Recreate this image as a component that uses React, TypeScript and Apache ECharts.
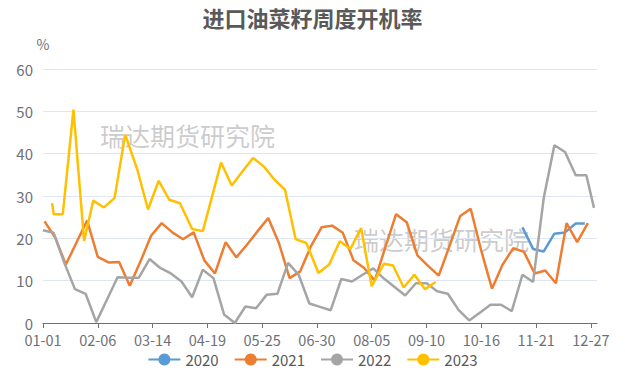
import React, { useEffect, useRef } from "react";
import * as echarts from "echarts";

const monthDays = [31, 28, 31, 30, 31, 30, 31, 31, 30, 31, 30, 31];
const categories: string[] = [];
monthDays.forEach((n, m) => {
  for (let d = 1; d <= n; d++) {
    categories.push(String(m + 1).padStart(2, "0") + "-" + String(d).padStart(2, "0"));
  }
});

const yTicks = [0, 10, 20, 30, 40, 50, 60];

const dates2020 = ["11-12", "11-19", "11-26", "12-03", "12-10", "12-17", "12-23"];
const rate2020 = [22.6, 17.5, 16.9, 21.1, 21.4, 23.5, 23.5];

const dates2021 = [
  "01-02", "01-09", "01-16", "01-23", "01-30", "02-06", "02-13", "02-20", "02-27",
  "03-06", "03-13", "03-20", "03-27", "04-03", "04-10", "04-17", "04-24", "05-01",
  "05-08", "05-15", "05-22", "05-29", "06-05", "06-12", "06-19", "06-26", "07-03",
  "07-10", "07-17", "07-24", "07-31", "08-07", "08-14", "08-21", "08-28", "09-04",
  "09-11", "09-18", "09-25", "10-02", "10-09", "10-16", "10-23", "10-30", "11-06",
  "11-13", "11-20", "11-27", "12-04", "12-11", "12-18", "12-25",
];
const rate2021 = [
  24.0, 20.2, 13.8, 19.0, 24.2, 15.6, 14.3, 14.4, 8.8,
  14.5, 20.6, 23.6, 21.4, 19.8, 21.4, 14.8, 11.7, 19.1,
  15.5, 18.5, 21.7, 24.8, 18.9, 10.6, 12.2, 18.1, 22.6,
  23.0, 21.3, 14.8, 13.0, 10.0, 18.0, 25.7, 23.8, 16.0,
  13.5, 11.2, 18.1, 25.2, 27.0, 17.0, 8.1, 13.8, 17.7,
  16.8, 11.7, 12.4, 9.4, 23.6, 19.1, 23.6,
];

const dates2022 = [
  "01-01", "01-08", "01-15", "01-22", "01-29", "02-05", "02-12", "02-19", "02-26",
  "03-05", "03-12", "03-19", "03-26", "04-02", "04-09", "04-16", "04-23", "04-30",
  "05-07", "05-14", "05-21", "05-28", "06-04", "06-11", "06-18", "06-25", "07-02",
  "07-09", "07-16", "07-23", "07-30", "08-06", "08-13", "08-20", "08-27", "09-03",
  "09-10", "09-17", "09-24", "10-01", "10-08", "10-15", "10-22", "10-29", "11-05",
  "11-12", "11-19", "11-26", "12-03", "12-10", "12-17", "12-24", "12-29",
];
const rate2022 = [
  21.9, 21.3, 14.2, 8.0, 6.9, 0.2, 5.5, 10.8, 10.7,
  10.7, 15.1, 13.0, 11.7, 9.8, 6.1, 12.6, 10.6, 2.0,
  0.0, 3.9, 3.5, 6.7, 6.9, 14.2, 11.4, 4.6, 3.8,
  3.0, 10.4, 9.8, 11.4, 12.9, 10.5, 8.5, 6.5, 9.4,
  9.4, 7.5, 6.9, 3.1, 0.6, 2.4, 4.3, 4.3, 2.8,
  11.4, 9.7, 29.5, 42.0, 40.4, 34.9, 34.9, 27.2,
];

const dates2023 = [
  "01-07", "01-08", "01-14", "01-21", "01-28", "02-03", "02-10", "02-17", "02-24",
  "03-04", "03-11", "03-18", "03-25", "04-01", "04-09", "04-16", "04-28", "05-05",
  "05-12", "05-19", "05-26", "06-02", "06-09", "06-16", "06-23", "07-01", "07-08",
  "07-15", "07-22", "07-29", "08-05", "08-13", "08-19", "08-26", "09-02", "09-09",
  "09-16",
];
const rate2023 = [
  28.3, 25.7, 25.7, 50.4, 19.4, 28.9, 27.3, 29.5, 44.5,
  36.2, 26.8, 33.6, 29.1, 28.3, 22.2, 21.7, 37.9, 32.5,
  35.8, 39.0, 37.0, 33.9, 31.5, 19.8, 18.9, 11.8, 13.8,
  19.3, 17.5, 22.4, 8.7, 14.0, 13.6, 8.4, 11.4, 8.0,
  9.7,
];

const seriesNames = ["2020", "2021", "2022", "2023"];
const seriesColors = ["#5B9BD5", "#ED7D31", "#A5A5A5", "#FFC000"];
const seriesDates = [dates2020, dates2021, dates2022, dates2023];
const seriesRates = [rate2020, rate2021, rate2022, rate2023];

const watermark = "瑞达期货研究院";

export default function App() {
  const ref = useRef<HTMLDivElement>(null);
  useEffect(() => {
    if (!ref.current) return;
    const chart = echarts.init(ref.current, null, { renderer: "svg" });
    const font = "'Microsoft YaHei', 'Noto Sans CJK SC', 'Noto Sans', sans-serif";
    chart.setOption({
      animation: false,
      textStyle: { fontFamily: font },
      title: {
        text: "进口油菜籽周度开机率",
        left: "center",
        top: 1,
        textStyle: { fontSize: 22, fontWeight: "bold", color: "#595959", fontFamily: font },
      },
      legend: {
        data: seriesNames,
        bottom: 3,
        left: "center",
        itemWidth: 32,
        itemHeight: 15,
        itemGap: 15,
        textStyle: { fontSize: 15, color: "#595959", fontFamily: font },
      },
      grid: { left: 43, right: 28, top: 69, bottom: 52, containLabel: false },
      graphic: [
        {
          type: "text",
          left: 100,
          top: 122,
          z: 0,
          style: { text: watermark, fontSize: 25, fill: "rgba(140,140,140,0.45)", fontFamily: font },
        },
        {
          type: "text",
          left: 354,
          top: 226,
          z: 0,
          style: { text: watermark, fontSize: 25, fill: "rgba(140,140,140,0.45)", fontFamily: font },
        },
      ],
      xAxis: {
        type: "category",
        data: categories,
        boundaryGap: false,
        axisLine: { lineStyle: { color: "#6E7079" } },
        axisTick: { interval: 35, lineStyle: { color: "#6E7079" } },
        axisLabel: {
          interval: 35,
          fontSize: 14.5,
          lineHeight: 14,
          color: "#6E7079",
          margin: 9,
          fontFamily: font,
        },
      },
      yAxis: {
        type: "value",
        name: "%",
        nameGap: 18,
        nameTextStyle: { fontSize: 14, color: "#6E7079" },
        min: yTicks[0],
        max: yTicks[yTicks.length - 1],
        interval: 10,
        axisLine: { show: false },
        axisTick: { show: false },
        axisLabel: { fontSize: 15, lineHeight: 13, color: "#6E7079", margin: 10, fontFamily: font },
        splitLine: { lineStyle: { color: "#E0E6F1" } },
      },
      series: seriesNames.map((name, i) => ({
        name,
        type: "line",
        symbol: "circle",
        symbolSize: 8,
        showSymbol: false,
        z: 3,
        lineStyle: { width: 2.5, color: seriesColors[i] },
        itemStyle: { color: seriesColors[i] },
        data: seriesDates[i].map((d, j) => [d, seriesRates[i][j]]),
      })),
    });
    return () => chart.dispose();
  }, []);
  return (
    <div
      ref={ref}
      style={{ position: "absolute", left: 0, top: 0, width: 625, height: 375 }}
    />
  );
}
